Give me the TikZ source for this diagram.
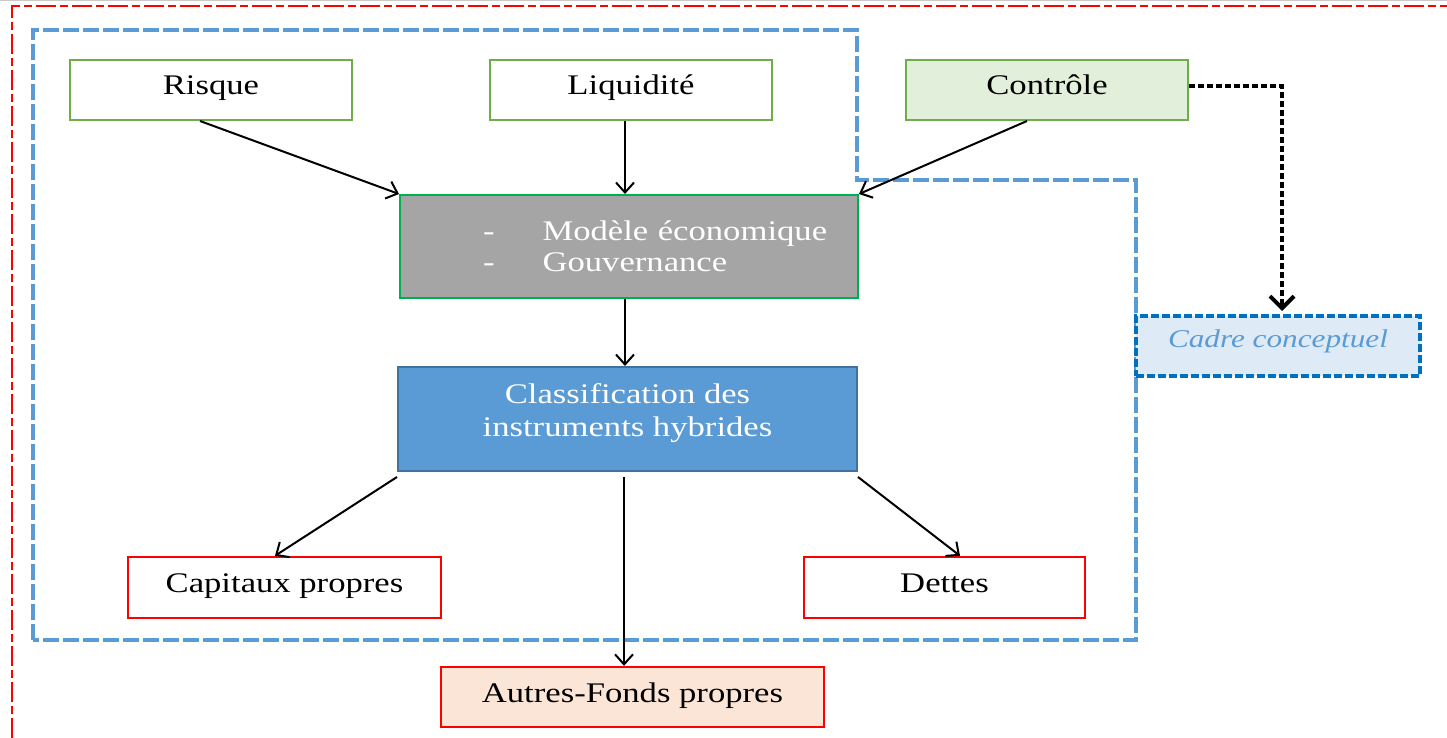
\documentclass[tikz,border=0pt]{standalone}
\usepackage{fontspec}
\setmainfont[FakeStretch=1.22]{Liberation Serif}
\usetikzlibrary{arrows.meta}
\definecolor{boxgreen}{RGB}{112,173,71}
\definecolor{brightgreen}{RGB}{0,176,80}
\definecolor{lightgreen}{RGB}{226,239,218}
\definecolor{midblue}{RGB}{91,155,213}
\definecolor{darkblue}{RGB}{65,113,156}
\definecolor{cadreblue}{RGB}{0,112,192}
\definecolor{cadrefill}{RGB}{222,235,247}
\definecolor{cadretext}{RGB}{91,155,213}
\definecolor{peach}{RGB}{251,229,214}
\definecolor{grayfill}{RGB}{165,165,165}
\definecolor{topgray}{RGB}{200,200,200}
\tikzset{
  box/.style={draw, line width=1pt, inner sep=0pt, minimum height=30pt,
    font=\fontsize{14.2}{15.5}\selectfont, text=black},
  oneline/.style={text height=8pt, text depth=3pt},
  greenbox/.style={box, oneline, draw=boxgreen, fill=white, minimum width=141pt},
  redbox/.style={box, oneline, draw=red, line width=1.2pt, fill=white},
  arr/.style={-{Straight Barb[length=5pt,width=9pt]}, line width=1pt, black},
  dotarr/.style={-{Straight Barb[length=6pt,width=12pt,line width=2pt]}, line width=2pt,
    dash pattern=on 3pt off 1.5pt, black},
  outerframe/.style={red, line width=1.3pt, dash pattern=on 10pt off 2pt on 4pt off 2pt},
  innerframe/.style={midblue, line width=2.2pt, dash pattern=on 8pt off 2pt},
}
\begin{document}
\begin{tikzpicture}[x=0.5pt,y=-0.5pt]
\useasboundingbox (0,0) rectangle (1447,738);
% top gray rule
\draw[topgray, line width=0.6pt] (0,0.6) -- (1447,0.6);
% outer red frame
\draw[outerframe] (12,738) -- (12,6) -- (1447,6);
% inner blue dashed frame
\draw[innerframe] (33,640) -- (33,30) -- (857,30) -- (857,180) -- (1136,180) -- (1136,640) -- cycle;

% top boxes
\node[greenbox] (risque) at (211,90) {Risque};
\node[greenbox] (liq) at (631,90) {Liquidité};
\node[greenbox, fill=lightgreen] (controle) at (1047,90) {Contrôle};

% modele box
\node[box, draw=brightgreen, fill=grayfill, minimum width=229pt, minimum height=51.5pt,
  text width=229pt, align=left, text=white]
  (modele) at (629,246.5)
  {\hspace*{41.5pt}-\hspace{24pt}Modèle économique\\\hspace*{41.5pt}-\hspace{24pt}Gouvernance};

% classification box
\node[box, draw=darkblue, fill=midblue, minimum width=229.5pt, minimum height=52pt,
  text=white] (classif) at (627.5,419)
  {\raisebox{0pt}[\height][\dimexpr\depth+6pt\relax]{\parbox{225pt}{\centering\baselineskip=16.5pt Classification des\\instruments hybrides}}};

% bottom boxes
\node[redbox, minimum width=156.5pt, minimum height=30.5pt] (capitaux) at (284.5,587.5) {Capitaux propres};
\node[redbox, minimum width=140.5pt, minimum height=30.5pt] (dettes) at (944.5,587.5) {Dettes};
\node[redbox, fill=peach, minimum width=191.5pt, minimum height=30pt] (autres) at (632.5,697) {Autres-Fonds propres};

% cadre conceptuel
\node[box, draw=cadreblue, fill=cadrefill, line width=2pt, dash pattern=on 4pt off 1.5pt,
  minimum width=142pt, minimum height=30pt, text=cadretext, text height=7pt, text depth=5.5pt,
  font=\fontsize{12.8}{14}\selectfont\itshape] (cadre) at (1278,346) {Cadre conceptuel};

% connectors
\draw[arr] ([xshift=-5.5pt]risque.south) -- (modele.north west);
\draw[arr] ([xshift=-3pt]liq.south) -- ([xshift=-2pt]modele.north);
\draw[arr] ([xshift=-10pt]controle.south) -- (modele.north east);
\draw[arr] ([xshift=-2pt]modele.south) -- ([xshift=-1.25pt]classif.north);
\draw[arr] ([yshift=-2.5pt]classif.south west) -- ([xshift=-4.75pt]capitaux.north);
\draw[arr] ([xshift=-1.75pt,yshift=-2.5pt]classif.south) -- ([xshift=-4.25pt]autres.north);
\draw[arr] ([yshift=-2.5pt]classif.south east) -- ([xshift=7.75pt]dettes.north);
\draw[dotarr] ([yshift=2pt]controle.east) -| ([xshift=2pt,yshift=1.5pt]cadre.north);
\end{tikzpicture}
\end{document}
